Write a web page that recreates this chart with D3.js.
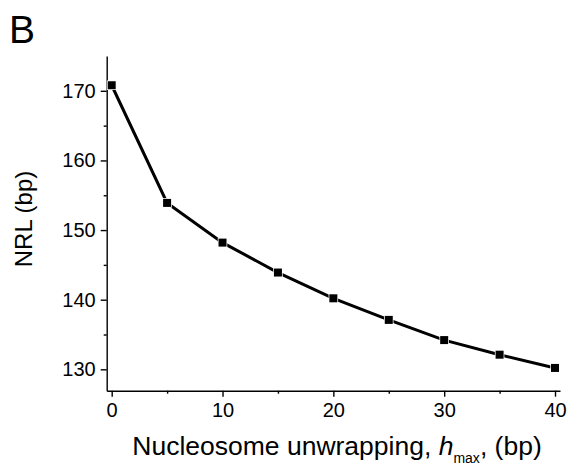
<!DOCTYPE html>
<html>
<head>
<meta charset="utf-8">
<script src="https://cdn.jsdelivr.net/npm/d3@7"></script>
<style>
  body { margin: 0; background: #fff; }
  svg { font-family: "Liberation Sans", Arial, sans-serif; }
</style>
</head>
<body>
<svg id="chart" width="569" height="467"></svg>
<script>
// values
const hmax = [0, 5, 10, 15, 20, 25, 30, 35, 40];
const nrl = [170.8, 153.9, 148.2, 143.9, 140.2, 137.1, 134.2, 132.1, 130.2];
const xTicks = [0, 10, 20, 30, 40];
const xMinor = [5, 15, 25, 35];
const yTicks = [130, 140, 150, 160, 170];
const yMinor = [135, 145, 155, 165];

const svg = d3.select("#chart");

const plotLeft = 106.7, plotRight = 560, plotTop = 56, plotBottom = 390.7;

const x = d3.scaleLinear().domain([-0.45, 40.45]).range([plotLeft, plotRight]);
const y = d3.scaleLinear().domain([126.93, 175]).range([plotBottom, plotTop]);

// panel letter
svg.append("text")
  .attr("x", 9)
  .attr("y", 43)
  .attr("font-size", 39)
  .text("B");

// axes
svg.append("g")
  .attr("transform", `translate(0,${plotBottom})`)
  .call(d3.axisBottom(x).tickValues(xTicks).tickSize(6).tickPadding(6).tickSizeOuter(0));
svg.append("g")
  .attr("transform", `translate(0,${plotBottom})`)
  .call(d3.axisBottom(x).tickValues(xMinor).tickSize(3).tickFormat("").tickSizeOuter(0))
  .select(".domain").remove();

svg.append("g")
  .attr("transform", `translate(${plotLeft},0)`)
  .call(d3.axisLeft(y).tickValues(yTicks).tickSize(6).tickPadding(5).tickSizeOuter(0));
svg.append("g")
  .attr("transform", `translate(${plotLeft},0)`)
  .call(d3.axisLeft(y).tickValues(yMinor).tickSize(3).tickFormat("").tickSizeOuter(0))
  .select(".domain").remove();

svg.selectAll(".tick line, .domain").attr("stroke", "#000").attr("stroke-width", 1.4);
svg.selectAll(".tick text")
  .attr("font-family", "Liberation Sans, Arial, sans-serif")
  .attr("font-size", 20)
  .attr("fill", "#000");

// axis titles
svg.append("text")
  .attr("transform", "translate(32,219) rotate(-90)")
  .attr("text-anchor", "middle")
  .attr("font-size", 24)
  .text("NRL (bp)");

const xt = svg.append("text")
  .attr("x", 337)
  .attr("y", 455)
  .attr("text-anchor", "middle")
  .attr("font-size", 26.5);
xt.append("tspan").text("Nucleosome unwrapping, ");
xt.append("tspan").attr("font-style", "italic").text("h");
xt.append("tspan").attr("font-size", 14).attr("dy", 8).text("max");
xt.append("tspan").attr("dy", -8).text(", (bp)");

// line and markers
const pts = hmax.map((h, i) => ({ h, v: nrl[i] }));

svg.append("path")
  .datum(pts)
  .attr("fill", "none")
  .attr("stroke", "#000")
  .attr("stroke-width", 3)
  .attr("d", d3.line().x(d => x(d.h)).y(d => y(d.v)));

const ms = 8;
svg.selectAll("rect.pt")
  .data(pts)
  .join("rect")
  .attr("class", "pt")
  .attr("x", d => x(d.h) - ms / 2)
  .attr("y", d => y(d.v) - ms / 2)
  .attr("width", ms)
  .attr("height", ms)
  .attr("fill", "#000")
  .attr("stroke", "#fff")
  .attr("stroke-width", 1.5)
  .attr("paint-order", "stroke");
</script>
</body>
</html>
